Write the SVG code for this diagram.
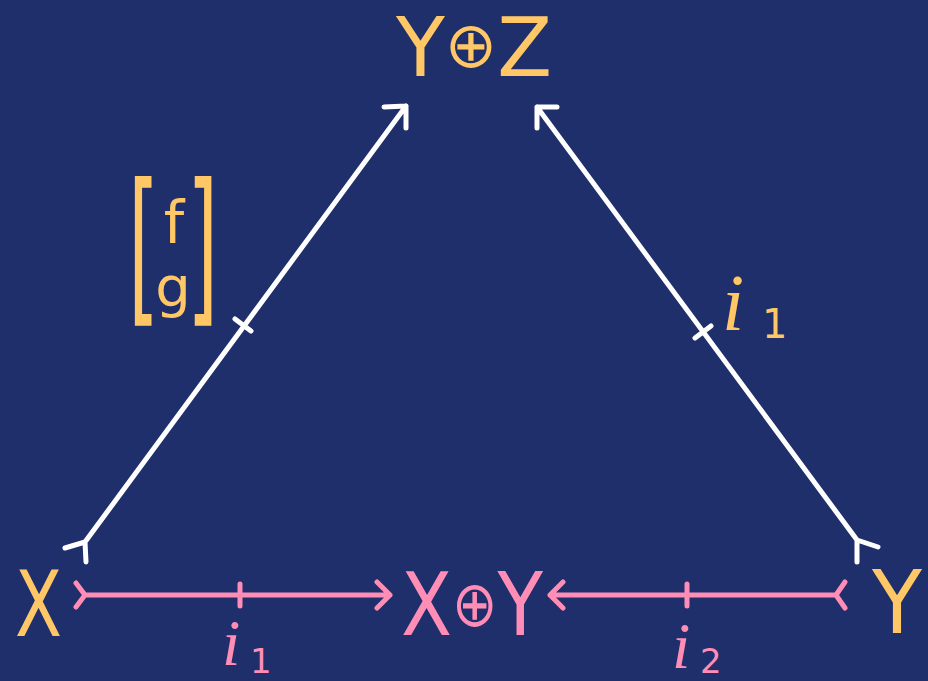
<svg xmlns="http://www.w3.org/2000/svg" width="928" height="681" viewBox="0 0 928 681">
<style>
.w{stroke:#FFFFFF;stroke-width:5;fill:none;stroke-linecap:round;stroke-linejoin:round}
.p{stroke:#FF8DB6;stroke-width:5;fill:none;stroke-linecap:round;stroke-linejoin:round}
.y{fill:#FFC766}
.k{fill:#FF8DB6}
.s{font-family:"DejaVu Sans","Noto Sans",sans-serif}
.it{font-family:"Liberation Serif","DejaVu Serif",serif;font-style:italic}
</style>
<rect width="928" height="681" fill="#1F2F6B"/>
<g id="connectors">
  <g id="e-f-g">
    <path class="w" d="M85,542 L406,106 M384,107 L406,106 L406,128 M65,548 L85,542 L86,562 M235,319 L251,331"/>
  </g>
  <g id="e-i1-top">
    <path class="w" d="M857,540 L537,107 M557,107 L537,107 L537,128 M878,547 L857,540 L857,562 M695,338 L711,326"/>
  </g>
  <g id="e-i1-bottom">
    <path class="p" d="M85,595 L390,595 M377,582 L390,595 L377,608 M76,583 L85,595 L76,607 M240,584 L240,606"/>
  </g>
  <g id="e-i2-bottom">
    <path class="p" d="M550,595 L836,595 M563,582 L550,595 L563,608 M845,582 L836,595 L845,608 M687,584 L687,606"/>
  </g>
</g>
<g id="node-YZ">
  <text class="s y" x="396" y="76" font-size="82" textLength="156" lengthAdjust="spacingAndGlyphs">Y<tspan font-size="64" dy="-9">⊕</tspan><tspan dy="9">Z</tspan></text>
</g>
<g id="node-X">
  <text class="s y" x="15" y="636" font-size="90" textLength="47" lengthAdjust="spacingAndGlyphs">X</text>
</g>
<g id="node-XY">
  <text class="s k" x="401" y="635" font-size="88" textLength="142" lengthAdjust="spacingAndGlyphs">X<tspan font-size="64" dy="-9">⊕</tspan><tspan dy="9">Y</tspan></text>
</g>
<g id="node-Y">
  <text class="s y" x="872" y="633" font-size="88" textLength="50" lengthAdjust="spacingAndGlyphs">Y</text>
</g>
<g id="label-fg">
  <text class="s y" font-size="80" transform="translate(128,304) scale(1,2.1)">[</text>
  <text class="s y" x="174" y="243" font-size="58" text-anchor="middle">f</text>
  <text class="s y" x="173" y="306" font-size="56" text-anchor="middle">g</text>
  <text class="s y" font-size="80" transform="translate(187,304) scale(1,2.1)">]</text>
</g>
<g id="label-i1-top">
  <text class="it y" x="722" y="330" font-size="80">i</text>
  <text class="s y" x="762" y="338" font-size="40">1</text>
</g>
<g id="label-i1-bottom">
  <text class="it k" x="222" y="665" font-size="66">i</text>
  <text class="s k" x="250" y="673" font-size="34">1</text>
</g>
<g id="label-i2-bottom">
  <text class="it k" x="672" y="668" font-size="66">i</text>
  <text class="s k" x="700" y="673" font-size="34">2</text>
</g>
</svg>
